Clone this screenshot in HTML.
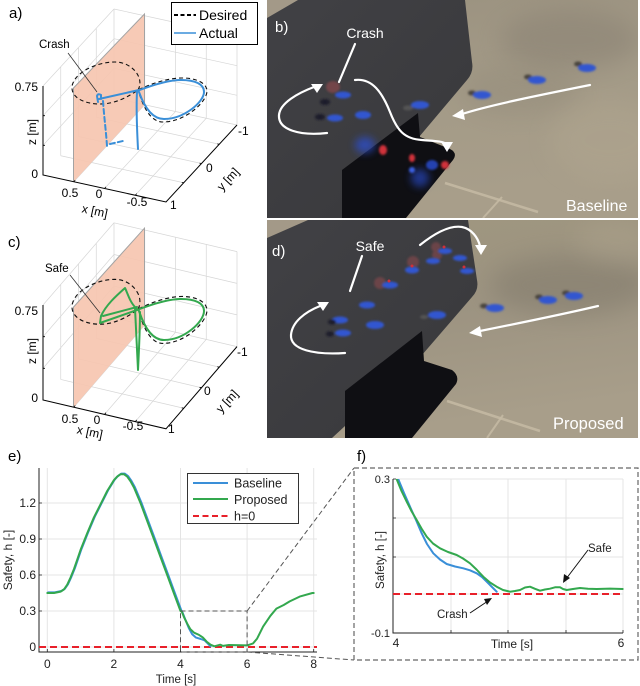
<!DOCTYPE html>
<html>
<head>
<meta charset="utf-8">
<style>
html,body{margin:0;padding:0;background:#fff;}
svg{display:block;}
text{font-family:"Liberation Sans",Arial,sans-serif;}
</style>
</head>
<body>
<svg width="640" height="686" viewBox="0 0 640 686" xmlns="http://www.w3.org/2000/svg">
<defs>
  <clipPath id="cb"><rect x="267" y="0" width="371" height="218"/></clipPath>
  <clipPath id="cd"><rect x="267" y="220" width="371" height="218"/></clipPath>
  <clipPath id="ce"><rect x="39" y="466" width="280" height="187"/></clipPath>
  <clipPath id="cf"><rect x="393" y="479" width="231" height="154"/></clipPath>
  <linearGradient id="floorB2" x1="0" y1="0" x2="0.25" y2="1">
    <stop offset="0" stop-color="#9a917f"/>
    <stop offset="0.5" stop-color="#a39a87"/>
    <stop offset="1" stop-color="#a89e8a"/>
  </linearGradient>
  <linearGradient id="floorD" x1="0" y1="0" x2="0.25" y2="1">
    <stop offset="0" stop-color="#a0977f"/>
    <stop offset="0.5" stop-color="#9c9381"/>
    <stop offset="1" stop-color="#a89e8a"/>
  </linearGradient>
  <linearGradient id="panelG" x1="0" y1="0" x2="1" y2="1">
    <stop offset="0" stop-color="#414145"/>
    <stop offset="1" stop-color="#38383b"/>
  </linearGradient>
  <filter id="bl" x="-50%" y="-50%" width="200%" height="200%"><feGaussianBlur stdDeviation="1"/></filter>
  <filter id="bl3" x="-50%" y="-50%" width="200%" height="200%"><feGaussianBlur stdDeviation="4"/></filter>
  <filter id="bl8" x="-50%" y="-50%" width="200%" height="200%"><feGaussianBlur stdDeviation="12"/></filter>
</defs>

<rect x="0" y="0" width="640" height="686" fill="#fff"/>

<!-- ================= PANEL A ================= -->
<g>
  <path d="M60.75,155.75V66.75M78.5,136.5V47.5M96.25,117.25V28.25M114,98V9M43,145.3L114,68.3M43,115.7L114,38.7M43,86L114,9M144.75,104.75V15.75M175.5,111.5V22.5M206.25,118.25V29.25M237,125V36M114,68.3L237,95.3M114,38.7L237,65.7M114,9L237,36M73.75,181.75L144.75,104.75M104.5,188.5L175.5,111.5M135.25,195.25L206.25,118.25M166,202L237,125M60.75,155.75L183.75,182.75M78.5,136.5L201.5,163.5M96.25,117.25L219.25,144.25M114,98L237,125" stroke="#d6d6d6" stroke-width="0.7" fill="none"/>
  <polygon points="73.5,182 73.5,88 144.5,14 144.5,105" fill="#f6c6b0" fill-opacity="0.92"/>
  <path d="M73.5,182V88L144.5,14V105" stroke="#a3a3a3" stroke-width="1" fill="none"/>
  <path d="M138,90 C145,78 132,62 115,62 C95,62 72,74 72,88 C72,98 85,104 100,104 C115,104 128,97 138,90 C150,84 168,78 182,78 C198,78 207,84 207,91 C207,102 185,122 163,122 C150,122 143,106 138,90" fill="none" stroke="#111" stroke-width="1.1" stroke-dasharray="4,3"/>
  <g stroke="#3a8fd8" stroke-width="2" fill="none" stroke-linecap="round">
    <path d="M138,149 C137,130 136,110 137,92"/>
    <path d="M137,91 C150,86 168,80 181,80 C195,80 204,84 204,92 C204,102 184,119 164,119 C152,119 144,106 139,92"/>
    <path d="M139,90 L99,99"/>
    <path d="M98,102 L97,96 Q98,93 101,95 L101,99"/>
    <path d="M103,101 C104,116 106,131 107,146 M110,144 L123,141" stroke-dasharray="5,3"/>
  </g>
  <path d="M43,86V175L166,202L237,125" stroke="#000" stroke-width="1" fill="none"/>
  <path d="M43,115.7h2M43,145.3h2M73.75,181.75l1.5,-1.6M104.5,188.5l1.5,-1.6M135.25,195.25l1.5,-1.6M183.75,182.75l-2,-0.4M201.5,163.5l-2,-0.4M219.25,144.25l-2,-0.4" stroke="#000" stroke-width="0.8"/>
  <rect x="171.5" y="2.5" width="86" height="42" fill="#fff" stroke="#000" stroke-width="1"/>
  <line x1="174" y1="15" x2="196" y2="15" stroke="#000" stroke-width="2" stroke-dasharray="4,2.5"/>
  <text x="199" y="20" font-size="14">Desired</text>
  <line x1="174" y1="33" x2="196" y2="33" stroke="#3a8fd8" stroke-width="1.6"/>
  <text x="199" y="38" font-size="14">Actual</text>
  <text x="9" y="18" font-size="15">a)</text>
  <text x="39" y="48" font-size="11.5">Crash</text>
  <line x1="68" y1="53" x2="97" y2="92" stroke="#333" stroke-width="0.8"/>
  <g font-size="12">
    <text x="38" y="91" text-anchor="end">0.75</text>
    <text x="38" y="178" text-anchor="end">0</text>
    <text transform="translate(36,132) rotate(-90)" text-anchor="middle">z [m]</text>
    <text x="70" y="197" text-anchor="middle">0.5</text>
    <text x="99" y="198" text-anchor="middle">0</text>
    <text x="137" y="206" text-anchor="middle">-0.5</text>
    <text transform="translate(94,215) rotate(12)" text-anchor="middle">x [m]</text>
    <text x="238" y="135">-1</text>
    <text x="206" y="172">0</text>
    <text x="170" y="209">1</text>
    <text transform="translate(231,182) rotate(-47)" text-anchor="middle">y [m]</text>
  </g>
</g>

<!-- ================= PANEL C ================= -->
<g transform="matrix(1,0,0,1.0674,0,213.2)">
  <path d="M60.75,155.75V66.75M78.5,136.5V47.5M96.25,117.25V28.25M114,98V9M43,145.3L114,68.3M43,115.7L114,38.7M43,86L114,9M144.75,104.75V15.75M175.5,111.5V22.5M206.25,118.25V29.25M237,125V36M114,68.3L237,95.3M114,38.7L237,65.7M114,9L237,36M73.75,181.75L144.75,104.75M104.5,188.5L175.5,111.5M135.25,195.25L206.25,118.25M166,202L237,125M60.75,155.75L183.75,182.75M78.5,136.5L201.5,163.5M96.25,117.25L219.25,144.25M114,98L237,125" stroke="#d6d6d6" stroke-width="0.7" fill="none"/>
  <polygon points="73.5,182 73.5,88 144.5,14 144.5,105" fill="#f6c6b0" fill-opacity="0.92"/>
  <path d="M73.5,182V88L144.5,14V105" stroke="#a3a3a3" stroke-width="1" fill="none"/>
  <path d="M138,90 C145,78 132,62 115,62 C95,62 72,74 72,88 C72,98 85,104 100,104 C115,104 128,97 138,90 C150,84 168,78 182,78 C198,78 207,84 207,91 C207,102 185,122 163,122 C150,122 143,106 138,90" fill="none" stroke="#111" stroke-width="1.1" stroke-dasharray="4,3"/>
  <path d="M43,86V175L166,202L237,125" stroke="#000" stroke-width="1" fill="none"/>
  <path d="M43,115.7h2M43,145.3h2M73.75,181.75l1.5,-1.6M104.5,188.5l1.5,-1.6M135.25,195.25l1.5,-1.6M183.75,182.75l-2,-0.4M201.5,163.5l-2,-0.4M219.25,144.25l-2,-0.4" stroke="#000" stroke-width="0.8"/>
</g>
<g stroke="#33a84e" stroke-width="2" fill="none" stroke-linecap="round" stroke-linejoin="round">
  <path d="M137,310 C150,305 168,299 181,299 C195,299 204,303 204,311 C204,322 184,340 164,340 C152,340 144,326 139,311"/>
  <path d="M135,308 C136,330 137,350 138,370 C139,350 140,330 140,312"/>
  <path d="M137,310 L100,323 L101,316 C106,305 116,296 125,288 C128,294 130,303 137,309"/>
  <path d="M103,316 L137,307"/>
</g>
<text x="8" y="247" font-size="15">c)</text>
<text x="45" y="272" font-size="11.5">Safe</text>
<line x1="70" y1="275" x2="100" y2="313" stroke="#333" stroke-width="0.8"/>
<g font-size="12">
  <text x="38" y="315" text-anchor="end">0.75</text>
  <text x="38" y="402" text-anchor="end">0</text>
  <text transform="translate(36,351) rotate(-90)" text-anchor="middle">z [m]</text>
  <text x="70" y="423" text-anchor="middle">0.5</text>
  <text x="97" y="424" text-anchor="middle">0</text>
  <text x="133" y="430" text-anchor="middle">-0.5</text>
  <text transform="translate(89,436) rotate(12)" text-anchor="middle">x [m]</text>
  <text x="237" y="356">-1</text>
  <text x="204" y="395">0</text>
  <text x="168" y="433">1</text>
  <text transform="translate(230,404) rotate(-47)" text-anchor="middle">y [m]</text>
</g>

<!-- ================= PHOTO B ================= -->
<g clip-path="url(#cb)">
  <rect x="267" y="0" width="371" height="218" fill="url(#floorB2)"/>
  <ellipse cx="570" cy="40" rx="70" ry="30" fill="#857d6f" opacity="0.45" filter="url(#bl8)"/>
  <ellipse cx="520" cy="90" rx="60" ry="25" fill="#8d8575" opacity="0.35" filter="url(#bl8)"/>
  <ellipse cx="610" cy="140" rx="60" ry="40" fill="#b3a891" opacity="0.4" filter="url(#bl8)"/>
  <polygon points="267,0 298,0 267,18" fill="#a39988"/>
  <path d="M267,18 L298,0 L465,0 L472,62 Q474,72 467,80 L419,137 L342,218 L267,218 Z" fill="url(#panelG)"/>
  <path d="M342,170 L418,113 L420,137 L450,149 Q458,153 453,160 L406,218 L342,218 Z" fill="#0f0f13"/>
  <line x1="445" y1="183" x2="538" y2="212" stroke="#c6bba5" stroke-width="2.5" opacity="0.85"/>
  <line x1="502" y1="197" x2="483" y2="218" stroke="#c6bba5" stroke-width="2" opacity="0.85"/>
  <ellipse cx="365" cy="145" rx="10" ry="8" fill="#2c4fd8" opacity="0.7" filter="url(#bl3)"/>
  <ellipse cx="420" cy="178" rx="9" ry="9" fill="#2c4fd8" opacity="0.6" filter="url(#bl3)"/>
  <ellipse cx="432" cy="165" rx="6" ry="5" fill="#2c4fd8" opacity="0.8" filter="url(#bl)"/>
  <ellipse cx="383" cy="150" rx="4" ry="5" fill="#d0303a" filter="url(#bl)"/>
  <ellipse cx="412" cy="158" rx="3" ry="4" fill="#d0303a" filter="url(#bl)"/>
  <ellipse cx="445" cy="165" rx="4" ry="4" fill="#d0303a" filter="url(#bl)"/>
  <ellipse cx="412" cy="170" rx="3" ry="3" fill="#3a5ee0" filter="url(#bl)"/>
  <ellipse cx="333" cy="87" rx="7" ry="6" fill="#8a4a4e" opacity="0.7" filter="url(#bl)"/>
  <g filter="url(#bl)">
    <ellipse cx="578" cy="64" rx="4" ry="2.5" fill="#4a443c"/>
    <ellipse cx="528" cy="77" rx="4" ry="2.5" fill="#4a443c"/>
    <ellipse cx="472" cy="93" rx="4" ry="2.5" fill="#4a443c"/>
    <ellipse cx="587" cy="68" rx="9" ry="4" fill="#3356d0"/>
    <ellipse cx="537" cy="80" rx="9" ry="4" fill="#3356d0"/>
    <ellipse cx="482" cy="95" rx="9" ry="4" fill="#3356d0"/>
    <ellipse cx="420" cy="105" rx="9" ry="4" fill="#3356d0"/>
    <ellipse cx="363" cy="115" rx="8" ry="4" fill="#3356d0"/>
    <ellipse cx="343" cy="95" rx="8" ry="3.5" fill="#3356d0"/>
    <ellipse cx="335" cy="118" rx="8" ry="3.5" fill="#3356d0"/>
    <ellipse cx="325" cy="102" rx="5" ry="3" fill="#1a1a2a"/>
    <ellipse cx="320" cy="117" rx="5" ry="3" fill="#1a1a2a"/>
    <ellipse cx="408" cy="108" rx="5" ry="2.5" fill="#555"/>
  </g>
  <g stroke="#fff" stroke-width="2.2" fill="none" stroke-linecap="round">
    <path d="M327,133 C300,136 278,130 279,115 C280,103 298,93 314,87"/>
    <path d="M355,80 C372,78 382,92 390,112 C397,130 404,139 422,140 C434,141 443,141 446,144"/>
    <path d="M590,85 C540,95 490,105 462,114"/>
    <line x1="355" y1="44" x2="339" y2="82"/>
  </g>
  <g fill="#fff">
    <polygon points="323,84 311,84 317,93"/>
    <polygon points="447,152 441,142 453,142"/>
    <polygon points="452,116 463,109 465,120"/>
  </g>
  <text x="275" y="32" font-size="15" fill="#fff">b)</text>
  <text x="365" y="38" font-size="14" fill="#fff" text-anchor="middle">Crash</text>
  <text x="566" y="211" font-size="16" fill="#fff">Baseline</text>
</g>

<!-- ================= PHOTO D ================= -->
<g clip-path="url(#cd)">
  <rect x="267" y="220" width="371" height="218" fill="url(#floorD)"/>
  <ellipse cx="570" cy="285" rx="80" ry="30" fill="#7d7668" opacity="0.45" filter="url(#bl8)"/>
  <ellipse cx="615" cy="240" rx="40" ry="20" fill="#b2a791" opacity="0.35" filter="url(#bl8)"/>
  <polygon points="267,220 308,220 267,238" fill="#a39988"/>
  <path d="M267,238 L308,220 L468,220 L477,280 Q479,290 472,297 L422,355 L332,438 L267,438 Z" fill="url(#panelG)"/>
  <path d="M345,391 L422,331 L424,361 L452,370 Q460,376 456,384 L412,438 L345,438 Z" fill="#0f0f13"/>
  <line x1="447" y1="401" x2="540" y2="431" stroke="#c6bba5" stroke-width="2.5" opacity="0.85"/>
  <line x1="503" y1="415" x2="487" y2="438" stroke="#c6bba5" stroke-width="2" opacity="0.85"/>
  <g opacity="0.6" filter="url(#bl)">
    <ellipse cx="380" cy="283" rx="6" ry="6" fill="#8a4a4e"/>
    <ellipse cx="413" cy="262" rx="6" ry="6" fill="#8a4a4e"/>
    <ellipse cx="436" cy="247" rx="5" ry="5" fill="#8a4a4e"/>
    <ellipse cx="437" cy="255" rx="5" ry="5" fill="#8a4a4e"/>
  </g>
  <g filter="url(#bl)">
    <ellipse cx="539" cy="297" rx="4" ry="2.5" fill="#4a443c"/>
    <ellipse cx="566" cy="293" rx="4" ry="2.5" fill="#4a443c"/>
    <ellipse cx="484" cy="306" rx="4" ry="2.5" fill="#4a443c"/>
    <ellipse cx="375" cy="325" rx="9" ry="4" fill="#3356d0"/>
    <ellipse cx="343" cy="333" rx="8" ry="3.5" fill="#3356d0"/>
    <ellipse cx="340" cy="320" rx="8" ry="3.5" fill="#3356d0"/>
    <ellipse cx="367" cy="305" rx="8" ry="3.5" fill="#3356d0"/>
    <ellipse cx="390" cy="285" rx="8" ry="3.5" fill="#3356d0"/>
    <ellipse cx="412" cy="270" rx="7" ry="3.5" fill="#3356d0"/>
    <ellipse cx="433" cy="261" rx="7" ry="3" fill="#3356d0"/>
    <ellipse cx="445" cy="251" rx="7" ry="3" fill="#3356d0"/>
    <ellipse cx="460" cy="258" rx="7" ry="3" fill="#3356d0"/>
    <ellipse cx="467" cy="271" rx="7" ry="3" fill="#3356d0"/>
    <ellipse cx="437" cy="315" rx="9" ry="4" fill="#3356d0"/>
    <ellipse cx="495" cy="308" rx="9" ry="4" fill="#3356d0"/>
    <ellipse cx="548" cy="300" rx="9" ry="4" fill="#3356d0"/>
    <ellipse cx="574" cy="296" rx="9" ry="4" fill="#3356d0"/>
    <ellipse cx="332" cy="322" rx="4" ry="2.5" fill="#1a1a2a"/>
    <ellipse cx="330" cy="334" rx="4" ry="2.5" fill="#1a1a2a"/>
    <ellipse cx="424" cy="317" rx="4" ry="2" fill="#555"/>
  </g>
  <g fill="#d0303a">
    <circle cx="389" cy="281" r="1.5"/><circle cx="412" cy="266" r="1.5"/><circle cx="444" cy="247" r="1.5"/><circle cx="464" cy="267" r="1.5"/>
  </g>
  <g stroke="#fff" stroke-width="2.2" fill="none" stroke-linecap="round">
    <path d="M345,353 C315,355 290,350 291,335 C292,322 305,312 320,306"/>
    <path d="M420,245 C435,233 450,225 462,227 C472,229 478,238 480,246"/>
    <path d="M598,306 C560,315 510,325 480,331"/>
    <line x1="362" y1="256" x2="350" y2="291"/>
  </g>
  <g fill="#fff">
    <polygon points="329,302 317,302 323,311"/>
    <polygon points="481,255 475,245 487,245"/>
    <polygon points="469,333 480,326 482,337"/>
  </g>
  <text x="272" y="256" font-size="15" fill="#fff">d)</text>
  <text x="370" y="251" font-size="14" fill="#fff" text-anchor="middle">Safe</text>
  <text x="553" y="429" font-size="16.5" fill="#fff">Proposed</text>
</g>

<!-- ================= PANEL E ================= -->
<g>
  <text x="8" y="461" font-size="15">e)</text>
  <g stroke="#e4e4e4" stroke-width="1">
    <path d="M47.3,468V652M113.9,468V652M180.5,468V652M247.1,468V652M313.7,468V652"/>
    <path d="M39,647H317M39,611H317M39,575H317M39,539H317M39,503H317"/>
  </g>
  <path d="M39,468V652H317" stroke="#222" stroke-width="1" fill="none"/>
  <path d="M47.3,652v-3M113.9,652v-3M180.5,652v-3M247.1,652v-3M313.7,652v-3M39,647h3M39,611h3M39,575h3M39,539h3M39,503h3" stroke="#222" stroke-width="0.8"/>
  <line x1="39" y1="647" x2="317" y2="647" stroke="#e8202a" stroke-width="2" stroke-dasharray="7,4"/>
  <g clip-path="url(#ce)" fill="none" stroke-width="2" stroke-linejoin="round" stroke-linecap="round">
    <polyline transform="translate(0.8,-0.6)" stroke="#3a8fd8" points="47.3,593 54,593 60.6,591.6 64,589.4 67.3,584.6 70.6,577.4 74,569 77.3,559.4 80.6,549.8 87.3,533 93.9,517.4 100.6,504.2 107.2,491 113.9,480.2 117.2,476.6 120.6,474.2 123.9,474.2 127.2,476.6 130.6,481.4 133.9,487.4 140.5,503 147.2,521 153.9,539 160.5,557 167.2,575 173.8,593 180.5,611 181.2,611.8 184.6,620.4 188,628.6 191.4,634.9 195.2,638.2 200,639.6 204,641.1 206.7,643.8 209.7,646.9"/>
    <polyline stroke="#33a84e" points="47.3,593 54,593 60.6,591.6 64,589.4 67.3,584.6 70.6,577.4 74,569 77.3,559.4 80.6,549.8 87.3,533 93.9,517.4 100.6,504.2 107.2,491 113.9,480.2 117.2,476.6 120.6,474.2 123.9,474.2 127.2,476.6 130.6,481.4 133.9,487.4 140.5,503 147.2,521 153.9,539 160.5,557 167.2,575 173.8,593 180.5,611 181.6,611.2 184.5,618.2 187.4,624 190.3,629.1 194.1,632.7 199,634.9 202.8,637.4 206.6,641.6 210.5,644.7 214.4,646.3 220.2,644.7 223,645.9 228.9,645 234.6,645.1 247.1,645.4 253.1,643.4 257.1,638.6 263.1,626.6 270.4,615.8 276.4,608.6 283.7,605 289.7,601.4 299.7,596.6 312.4,593 313.7,593"/>
  </g>
  <g stroke="#555" stroke-width="1" fill="none" stroke-dasharray="5,3">
    <rect x="180.5" y="611" width="66.6" height="41"/>
    <line x1="247.1" y1="611" x2="354" y2="468"/>
    <line x1="247.1" y1="652" x2="354" y2="660"/>
  </g>
  <rect x="187.5" y="473.5" width="111" height="50" fill="#fff" stroke="#333" stroke-width="1"/>
  <line x1="193" y1="483" x2="228" y2="483" stroke="#3a8fd8" stroke-width="2"/>
  <line x1="193" y1="499" x2="228" y2="499" stroke="#33a84e" stroke-width="2"/>
  <line x1="193" y1="516" x2="228" y2="516" stroke="#e8202a" stroke-width="2" stroke-dasharray="6,3.5"/>
  <g font-size="12.5" fill="#222">
    <text x="234" y="487.5">Baseline</text>
    <text x="234" y="504">Proposed</text>
    <text x="234" y="520.5">h=0</text>
  </g>
  <g font-size="12" fill="#222">
    <text x="36" y="651" text-anchor="end">0</text>
    <text x="36" y="615" text-anchor="end">0.3</text>
    <text x="36" y="579" text-anchor="end">0.6</text>
    <text x="36" y="543" text-anchor="end">0.9</text>
    <text x="36" y="507" text-anchor="end">1.2</text>
    <text x="47.3" y="668" text-anchor="middle">0</text>
    <text x="113.9" y="668" text-anchor="middle">2</text>
    <text x="180.5" y="668" text-anchor="middle">4</text>
    <text x="247.1" y="668" text-anchor="middle">6</text>
    <text x="313.7" y="668" text-anchor="middle">8</text>
    <text x="176" y="683" text-anchor="middle" font-size="11.5">Time [s]</text>
    <text transform="translate(12,560) rotate(-90)" text-anchor="middle">Safety, h [-]</text>
  </g>
</g>

<!-- ================= PANEL F ================= -->
<g>
  <text x="357" y="461" font-size="15">f)</text>
  <rect x="354" y="468" width="284" height="192" fill="none" stroke="#666" stroke-width="1.2" stroke-dasharray="5,3"/>
  <g stroke="#e4e4e4" stroke-width="1">
    <path d="M451,479V633M508,479V633M566,479V633M623,479V633"/>
    <path d="M393,479H623M393,518H623M393,557H623M393,594H623"/>
  </g>
  <path d="M393,479V633H623" stroke="#222" stroke-width="1" fill="none"/>
  <path d="M451,633v-3M508,633v-3M566,633v-3M623,633v-3M393,479h3M393,518h3M393,557h3M393,594h3" stroke="#222" stroke-width="0.8"/>
  <line x1="393" y1="594" x2="623" y2="594" stroke="#e8202a" stroke-width="2" stroke-dasharray="7,4"/>
  <g clip-path="url(#cf)" fill="none" stroke-width="2" stroke-linejoin="round" stroke-linecap="round">
    <polyline stroke="#3a8fd8" points="397,476 398.3,479.3 404,493 410,506.7 416,520 421.7,533.3 427,544 433.3,553.3 440,559.5 446.7,564 455,566.5 463.3,568.3 470,570.3 476.7,573.3 482,577 486.7,581.7 492,587 496.7,591.7"/>
    <polyline stroke="#33a84e" points="394.5,476 396.7,479.3 401.5,491 406.7,501.7 411.7,511.5 416.7,520 421.5,528.5 426.7,536.7 433,543.5 440,548.3 448,552 456.7,555 463,558.5 470,563.3 476.5,569.5 483.3,576.7 490,582.5 496.7,586.7 503,590 510,591.7 515,591 520,590 525,587.5 530,586.7 535,588.8 540,590.7 545,589.5 550,588.7 555,587.3 560,587.3 563,589 566.7,590 573,589 580,588 588,588.8 596.7,589 610,588.6 622.7,589"/>
  </g>
  <g font-size="11" fill="#222">
    <text x="390" y="483" text-anchor="end">0.3</text>
    <text x="390" y="637" text-anchor="end">-0.1</text>
    <text x="396" y="647" text-anchor="middle" font-size="12">4</text>
    <text x="621" y="647" text-anchor="middle" font-size="12">6</text>
    <text x="512" y="648" text-anchor="middle" font-size="12">Time [s]</text>
    <text transform="translate(384,560) rotate(-90)" text-anchor="middle" font-size="11.5">Safety, h [-]</text>
    <text x="588" y="552" font-size="11.5">Safe</text>
    <text x="437" y="618" font-size="11.5">Crash</text>
  </g>
  <g stroke="#111" stroke-width="1" fill="#111">
    <line x1="588" y1="550" x2="566" y2="579"/>
    <polygon points="563,583 564,574 570,578" stroke="none"/>
    <line x1="470" y1="613" x2="488" y2="601"/>
    <polygon points="492,598 484,599 487,605" stroke="none"/>
  </g>
</g>
</svg>
</body>
</html>
